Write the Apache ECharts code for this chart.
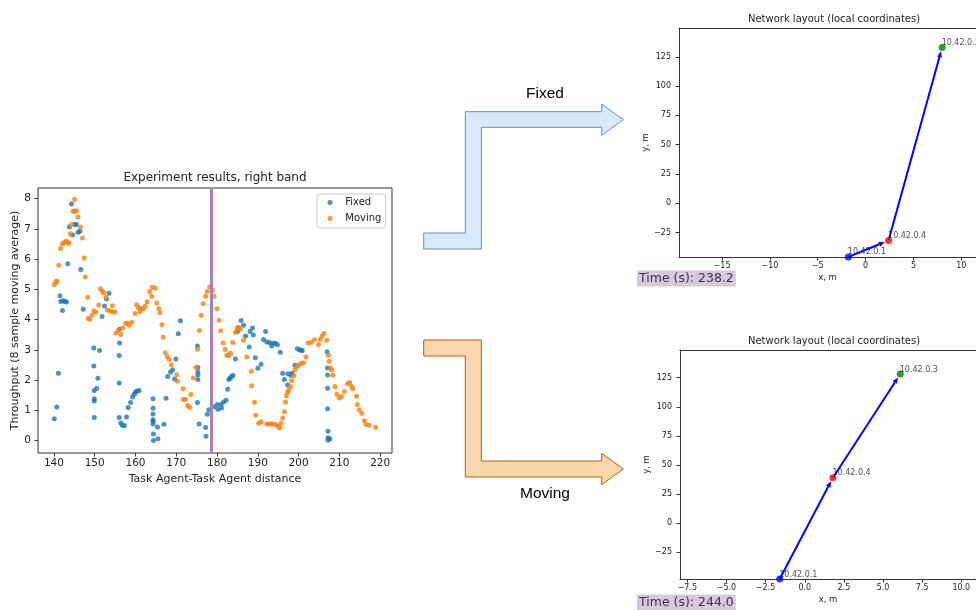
<!DOCTYPE html>
<html>
<head>
<meta charset="utf-8">
<title>Experiment results</title>
<script src="https://cdn.jsdelivr.net/npm/echarts@6/dist/echarts.min.js"></script>
<style>
  html, body { margin: 0; padding: 0; background: #fff; }
  #main { width: 976px; height: 610px; }
</style>
</head>
<body>
<div id="main"></div>
<script>
// ---- experiment scatter (left) ----
const fixedX = [140.1, 140.7, 141.1, 141.5, 141.7, 142.1, 142.3, 142.7, 143.1, 143.4, 143.8, 144.3, 144.6, 145.1, 145.5, 145.9, 146.4, 146.6, 147.2,
  149.8, 149.8, 149.9, 149.9, 149.9, 149.9, 150.5, 150.8, 151.2, 151.8, 152.4, 152.9, 153.5,
  156.1, 156.1, 156.0, 156.0, 156.0, 156.4, 156.8, 157.3, 157.8, 158.2, 158.8, 159.3, 159.7, 160.0, 160.4, 160.9,
  164.3, 164.3, 164.3, 164.3, 164.3, 164.3, 164.4, 164.4, 165.4, 165.5, 167.0, 167.5, 167.9, 168.6, 169.1, 169.6, 169.9, 170.5, 171.0,
  175.2, 175.3, 175.3, 175.3, 175.3, 175.2, 175.6, 177.2, 177.3, 177.6, 178.0, 179.3, 180.1, 180.2, 181.0, 181.1, 181.6, 182.2,
  182.6, 182.9, 183.2, 183.5, 183.9, 184.5, 185.0, 185.3, 185.9, 186.5, 187.0, 187.9, 188.1, 188.7, 188.9, 189.4, 190.0, 190.8,
  191.4, 191.9, 192.2, 192.8, 193.4, 193.7, 194.3, 194.8, 195.5, 196.1, 196.5, 197.3, 197.4, 198.1, 198.4, 199.1, 199.7, 200.2, 200.6, 200.9,
  207.0, 207.1, 207.1, 207.1, 207.1, 207.2, 207.2, 207.2, 207.7];
const fixedY = [0.72, 1.11, 2.23, 4.79, 4.60, 4.30, 4.62, 4.60, 4.58, 5.85, 7.06, 7.82, 6.80, 7.14, 7.14, 6.89, 6.92, 5.66, 4.34,
  3.06, 2.47, 1.66, 1.38, 1.31, 0.76, 1.73, 2.06, 2.98, 4.10, 4.45, 4.68, 4.87,
  3.68, 3.23, 2.81, 1.90, 0.76, 0.58, 0.50, 0.50, 0.78, 1.09, 1.26, 1.44, 1.53, 1.61, 1.64, 1.66,
  1.38, 1.07, 0.88, 0.69, 0.64, 0.55, 0.22, 0.00, 0.45, 0.06, 0.54, 1.40, 2.12, 2.27, 2.34, 2.04, 2.70, 3.53, 3.96,
  3.13, 2.42, 2.27, 2.18, 2.02, 1.26, 0.55, 0.43, 0.14, 0.87, 1.02, 1.12, 1.19, 1.04, 1.19, 1.08, 1.28, 1.33,
  1.70, 2.02, 2.06, 2.12, 2.15, 2.70, 3.60, 3.72, 3.97, 3.81, 3.46, 3.09, 3.61, 3.72, 3.49, 2.74, 2.39, 2.52,
  3.34, 3.61, 3.26, 3.24, 3.13, 3.22, 3.22, 3.17, 2.92, 2.23, 2.02, 1.84, 2.21, 2.16, 2.23, 2.49, 3.04, 3.00, 2.99, 2.98,
  2.94, 2.40, 2.17, 1.73, 1.05, 0.31, 0.09, 0.01, 0.06];

const movingX = [140.1, 140.5, 140.7, 141.2, 141.6, 142.1, 142.5, 143.0, 143.4, 143.7, 144.0, 144.3, 144.7, 145.1, 145.1, 145.5, 145.9, 146.5,
  147.0, 147.4, 147.7, 148.3, 148.4, 148.8, 149.3, 149.8, 150.3, 151.0, 151.4, 151.9, 152.2, 152.8, 153.1, 153.7, 154.3, 154.4, 155.0,
  155.2, 155.8, 156.4, 156.9, 157.6, 158.1, 158.5, 159.1, 159.9, 160.3, 160.7, 161.1, 161.3, 161.9, 162.4, 162.9, 163.5, 164.0, 164.1,
  164.9, 165.2, 165.7, 166.0, 166.5, 166.8, 167.3, 167.8, 168.3, 168.8, 170.1, 170.3, 171.7, 171.7, 172.3, 172.8, 173.3, 173.6, 174.2,
  174.8, 175.2, 175.7, 176.1, 176.6, 177.2, 177.6, 178.2, 178.9, 179.3, 180.0, 180.5, 180.9, 181.5, 182.0, 182.4, 182.9, 183.3, 183.8,
  184.5, 184.9, 185.3, 185.7, 186.5, 187.3, 188.4, 188.5, 189.2, 189.5, 190.2, 190.8, 192.2, 192.8, 193.4, 194.0, 194.5, 195.1, 195.3,
  195.7, 196.1, 196.5, 196.8, 197.0, 197.3, 197.6, 198.1, 198.3, 198.8, 199.1, 199.5, 200.0, 200.6, 201.2, 201.8, 202.3, 203.1, 203.9,
  204.9, 205.3, 205.8, 206.2, 206.9, 207.3, 207.5, 207.8, 208.1, 208.4, 208.9, 209.4, 209.9, 210.5, 211.2, 212.0, 212.5, 213.0, 213.3,
  214.2, 214.4, 214.9, 215.5, 216.1, 216.5, 217.3, 218.9];
const movingY = [5.16, 5.25, 5.27, 5.80, 6.35, 6.51, 6.55, 6.59, 6.56, 6.52, 6.84, 7.14, 7.58, 7.97, 7.58, 7.60, 7.39, 7.06,
  6.70, 6.04, 5.41, 4.74, 4.04, 4.01, 4.14, 4.28, 4.24, 4.48, 5.02, 4.94, 4.89, 4.74, 4.32, 4.28, 4.46, 4.26, 4.25,
  3.56, 3.64, 3.51, 3.72, 3.88, 3.87, 3.81, 3.91, 4.20, 4.49, 4.39, 4.26, 4.37, 4.36, 4.45, 4.59, 4.93, 4.77, 5.07,
  5.04, 4.55, 4.36, 4.23, 3.83, 3.42, 2.90, 2.77, 2.68, 2.51, 2.18, 1.96, 1.71, 1.36, 1.36, 1.16, 1.09, 1.52, 2.07,
  2.42, 3.02, 3.64, 4.14, 4.52, 4.77, 4.93, 5.08, 4.97, 4.77, 4.36, 3.98, 3.63, 3.23, 3.01, 2.82, 2.81, 2.89, 3.24,
  3.58, 3.72, 3.74, 3.69, 3.32, 2.76, 2.29, 1.81, 1.27, 0.84, 0.57, 0.62, 0.55, 0.55, 0.55, 0.55, 0.52, 0.47, 0.42,
  0.57, 0.75, 0.95, 1.28, 1.48, 1.60, 1.67, 1.79, 1.98, 2.14, 2.33, 2.45, 2.50, 2.55, 2.57, 2.76, 3.23, 3.24, 3.33,
  3.18, 3.35, 3.46, 3.54, 3.32, 2.82, 2.62, 2.40, 2.33, 2.16, 1.79, 1.53, 1.41, 1.46, 1.62, 1.88, 1.92, 1.79, 1.71,
  1.47, 1.19, 1.02, 0.90, 0.66, 0.54, 0.51, 0.44];

const bandLineX = 178.6;
const distTicks = [140, 150, 160, 170, 180, 190, 200, 210, 220];
const throughputTicks = [0, 1, 2, 3, 4, 5, 6, 7, 8];

// ---- network layouts (right) ----
const nodeNames = ["10.42.0.1", "10.42.0.4", "10.42.0.3"];
const fixedNodeX = [-1.8, 2.4, 8.0];
const fixedNodeY = [-45.8, -31.8, 133.0];
const movingNodeX = [-1.6, 1.8, 6.1];
const movingNodeY = [-47.9, 39.1, 128.1];
const links = [[0, 1], [1, 2]];
const fixedLayoutXTicks = [-15, -10, -5, 0, 5, 10];
const movingLayoutXTicks = [-7.5, -5, -2.5, 0, 2.5, 5, 7.5, 10];
const layoutYTicks = [-25, 0, 25, 50, 75, 100, 125];
const fixedTime = 238.2;
const movingTime = 244.0;

const nodeColors = ["#0000ff", "#ff0000", "#008000"];
const FONT = "DejaVu Sans";
const INK = "#222";

function minus(v, digits) {
  return v.toFixed(digits).replace("-", "\u2212");
}

function axis(gridIndex, min, max, ticks, digits, fontSize, margin, name, nameGap, rotate, line) {
  return {
    type: "value",
    gridIndex: gridIndex,
    min: min,
    max: max,
    name: name,
    nameLocation: "middle",
    nameGap: nameGap,
    nameRotate: rotate ? 90 : 0,
    nameTextStyle: { fontFamily: FONT, fontSize: fontSize + 0.5, color: INK },
    splitLine: { show: false },
    axisLine: { show: !!line, onZero: false, lineStyle: { color: "#333", width: 1 } },
    axisTick: { show: true, inside: false, length: 3.5, customValues: ticks, lineStyle: { color: "#333" } },
    axisLabel: {
      show: true,
      customValues: ticks,
      margin: margin,
      fontFamily: FONT,
      fontSize: fontSize,
      color: INK,
      formatter: function (v) { return minus(v, digits); },
    },
  };
}

// plain line along the top of a layout panel (its right side is cut off by the figure)
function topBorder(gridIndex, min, max) {
  return {
    type: "value", gridIndex: gridIndex, position: "top", min: min, max: max,
    axisLine: { show: true, onZero: false, lineStyle: { color: "#333", width: 1 } },
    axisTick: { show: false }, axisLabel: { show: false }, splitLine: { show: false },
  };
}

function edgeData(xs, ys) {
  return links.map(function (l) {
    return [xs[l[0]], ys[l[0]], xs[l[1]], ys[l[1]]];
  });
}

function nodeData(xs, ys) {
  return nodeNames.map(function (n, i) {
    return { name: n, value: [xs[i], ys[i]], itemStyle: { color: nodeColors[i] } };
  });
}

// arrow like networkx draws: line with a filled head stopping short of the node
function renderEdge(params, api) {
  const p1 = api.coord([api.value(0), api.value(1)]);
  const p2 = api.coord([api.value(2), api.value(3)]);
  const dx = p2[0] - p1[0], dy = p2[1] - p1[1];
  const len = Math.sqrt(dx * dx + dy * dy) || 1;
  const ux = dx / len, uy = dy / len;
  const tip = [p2[0] - ux * 4, p2[1] - uy * 4];
  const base = [tip[0] - ux * 6, tip[1] - uy * 6];
  const nx = -uy, ny = ux;
  return {
    type: "group",
    children: [
      { type: "line", shape: { x1: p1[0], y1: p1[1], x2: base[0], y2: base[1] }, style: { stroke: "#0000ff", lineWidth: 2 } },
      {
        type: "polygon",
        shape: { points: [tip, [base[0] + nx * 2.5, base[1] + ny * 2.5], [base[0] - nx * 2.5, base[1] - ny * 2.5]] },
        style: { fill: "#0000ff" },
      },
    ],
  };
}

function nodeSeries(xi, yi, xs, ys) {
  return {
    type: "scatter",
    xAxisIndex: xi,
    yAxisIndex: yi,
    symbolSize: 7,
    clip: true,
    z: 3,
    label: {
      show: true,
      position: [3, -5],
      formatter: "{b}",
      fontFamily: FONT,
      fontSize: 8,
      color: INK,
    },
    emphasis: { disabled: true },
    data: nodeData(xs, ys),
  };
}

function edgeSeries(xi, yi, xs, ys) {
  return {
    type: "custom",
    xAxisIndex: xi,
    yAxisIndex: yi,
    clip: true,
    z: 2,
    renderItem: renderEdge,
    encode: { x: [0, 2], y: [1, 3] },
    data: edgeData(xs, ys),
  };
}

function textEl(x, y, text, font, fill) {
  return {
    type: "text", x: x, y: y, z: 10,
    style: { text: text, font: font, fill: fill, align: "center", verticalAlign: "middle", textAlign: "center", textVerticalAlign: "middle" },
  };
}

function timeEl(x, y, t) {
  return {
    type: "text", x: x, y: y, z: 10,
    style: {
      text: "Time (s): " + t.toFixed(1),
      font: "12.5px '" + FONT + "'",
      fill: "#3d3344",
      backgroundColor: "#d9c7dd",
      padding: [2, 2, 1, 2],
      align: "left", verticalAlign: "top",
    },
  };
}

const chart = echarts.init(document.getElementById("main"), null, { renderer: "canvas" });

chart.setOption({
  animation: false,
  backgroundColor: "#fff",
  textStyle: { fontFamily: FONT },
  grid: [
    { left: 38, top: 188, width: 354, height: 265, show: true, borderColor: "#333", borderWidth: 1, backgroundColor: "transparent" },
    { left: 679, top: 28, width: 297, height: 229 },
    { left: 680, top: 350, width: 296, height: 229 },
  ],
  xAxis: [
    axis(0, 136.1, 222.9, distTicks, 0, 10.5, 5, "Task Agent-Task Agent distance", 21, false, false),
    axis(1, -19.5, 11.54, fixedLayoutXTicks, 0, 8, 5, "x, m", 16.5, false, true),
    axis(2, -7.97, 10.94, movingLayoutXTicks, 1, 8, 5, "x, m", 16.5, false, true),
    topBorder(1, -19.5, 11.54),
    topBorder(2, -7.97, 10.94),
  ],
  yAxis: [
    axis(0, -0.41, 8.35, throughputTicks, 0, 10.5, 7, "Throughput (8 sample moving average)", 16, true, false),
    axis(1, -45.9, 149.6, layoutYTicks, 0, 8, 8, "y, m", 20, true, true),
    axis(2, -47.9, 148.8, layoutYTicks, 0, 8, 8, "y, m", 20, true, true),
  ],
  legend: {
    data: ["Fixed", "Moving"],
    orient: "vertical",
    left: 317,
    top: 194,
    icon: "circle",
    itemWidth: 20.5,
    itemHeight: 5,
    itemGap: 3,
    padding: [2, 4, 3, 10.5],
    backgroundColor: "#fff",
    borderColor: "#ccc",
    borderWidth: 1,
    borderRadius: 3,
    textStyle: { fontFamily: FONT, fontSize: 10, color: INK, lineHeight: 13 },
  },
  series: [
    {
      name: "Fixed",
      type: "scatter",
      xAxisIndex: 0,
      yAxisIndex: 0,
      symbolSize: 5,
      itemStyle: { color: "#1f77b4" },
      emphasis: { disabled: true },
      data: fixedX.map(function (x, i) { return [x, fixedY[i]]; }),
    },
    {
      name: "Moving",
      type: "scatter",
      xAxisIndex: 0,
      yAxisIndex: 0,
      symbolSize: 5,
      itemStyle: { color: "#ff7f0e" },
      emphasis: { disabled: true },
      data: movingX.map(function (x, i) { return [x, movingY[i]]; }),
      markLine: {
        silent: true,
        symbol: "none",
        label: { show: false },
        lineStyle: { color: "#a680c0", width: 3, type: "solid", opacity: 1 },
        data: [{ xAxis: bandLineX }],
      },
    },
    edgeSeries(1, 1, fixedNodeX, fixedNodeY),
    nodeSeries(1, 1, fixedNodeX, fixedNodeY),
    edgeSeries(2, 2, movingNodeX, movingNodeY),
    nodeSeries(2, 2, movingNodeX, movingNodeY),
  ],
  graphic: [
    textEl(215, 178, "Experiment results, right band", "12px '" + FONT + "'", INK),
    textEl(834, 19, "Network layout (local coordinates)", "10px '" + FONT + "'", INK),
    textEl(834, 341, "Network layout (local coordinates)", "10px '" + FONT + "'", INK),
    {
      type: "polygon", z: 5,
      shape: { points: [[423.7, 233], [465.3, 233], [465.3, 111.7], [601.7, 111.7], [601.7, 104], [623.3, 119.7],
        [601.7, 135.3], [601.7, 127.3], [481.3, 127.3], [481.3, 249], [423.7, 249]] },
      style: { fill: "#dae8fc", stroke: "#6c8ebf", lineWidth: 1 },
    },
    {
      type: "polygon", z: 5,
      shape: { points: [[423.7, 340], [481.3, 340], [481.3, 461], [601.7, 461], [601.7, 453.3], [623.3, 469],
        [601.7, 484.7], [601.7, 477], [465.3, 477], [465.3, 356], [423.7, 356]] },
      style: { fill: "#fad7ac", stroke: "#b46504", lineWidth: 1 },
    },
    textEl(545, 94, "Fixed", "15.5px 'Liberation Sans'", "#000"),
    textEl(545, 494, "Moving", "15.5px 'Liberation Sans'", "#000"),
    timeEl(637, 270.5, fixedTime),
    timeEl(637, 594.5, movingTime),
  ],
});
</script>
</body>
</html>
